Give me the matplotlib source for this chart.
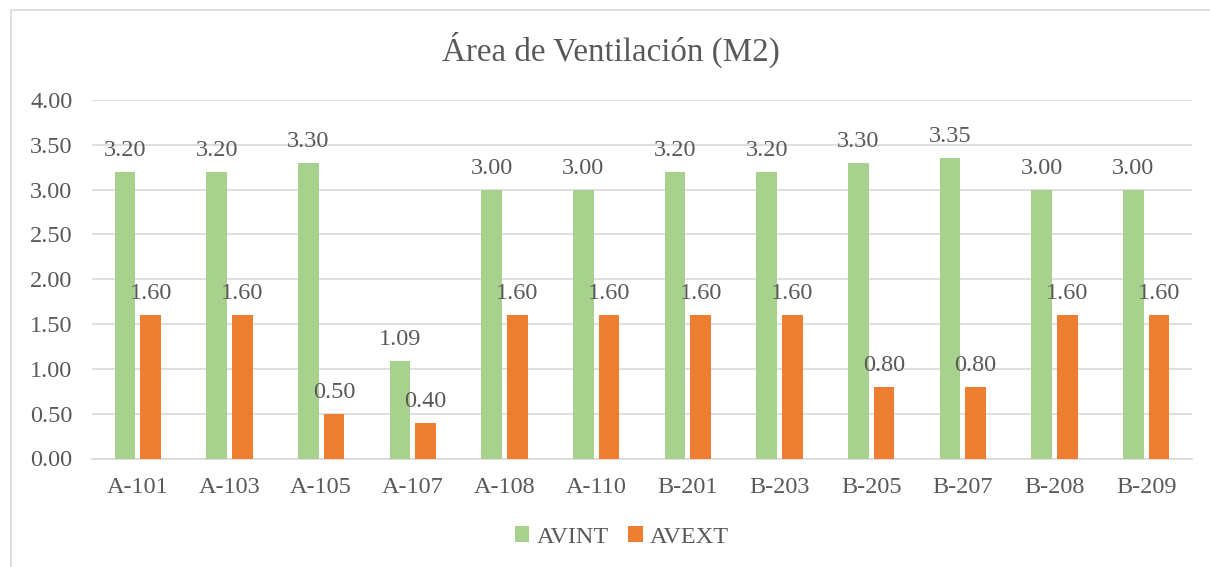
import matplotlib.pyplot as plt
import numpy as np
from matplotlib.patches import Rectangle

plt.rcParams['font.family'] = ['Liberation Serif', 'DejaVu Serif']

# áreas de ventilación por ambiente
ambientes = ['A-101', 'A-103', 'A-105', 'A-107', 'A-108', 'A-110',
             'B-201', 'B-203', 'B-205', 'B-207', 'B-208', 'B-209']
avint = [3.20, 3.20, 3.30, 1.09, 3.00, 3.00, 3.20, 3.20, 3.30, 3.35, 3.00, 3.00]
avext = [1.60, 1.60, 0.50, 0.40, 1.60, 1.60, 1.60, 1.60, 0.80, 0.80, 1.60, 1.60]
yticks = [0.0, 0.5, 1.0, 1.5, 2.0, 2.5, 3.0, 3.5, 4.0]

verde = '#a9d18e'
naranja = '#ed7d31'
gris = '#595959'

fig = plt.figure(figsize=(12.1, 5.67), dpi=100)
ax = fig.add_axes([92/1210, 1-458.5/567, 1100/1210, 358.5/567])

# marco del gráfico
fig.patches.append(Rectangle((11/1210, -0.05), 1.1, 1.05-10/567, transform=fig.transFigure,
                             fill=False, edgecolor='#d9d9d9', linewidth=1.2))

x = np.arange(len(ambientes))
w = 0.224
b1 = ax.bar(x - 0.139, avint, w, color=verde, label='AVINT', zorder=3)
b2 = ax.bar(x + 0.139, avext, w, color=naranja, label='AVEXT', zorder=3)

for barras, vals in ((b1, avint), (b2, avext)):
    for r, v in zip(barras, vals):
        ax.annotate('%.2f' % v, (r.get_x() + r.get_width()/2, v), xytext=(0, 8),
                    textcoords='offset points', ha='center', va='bottom',
                    fontsize=17.5, color=gris, zorder=4)

ax.set_xlim(-0.5, len(ambientes) - 0.5)
ax.set_ylim(0, 4)
ax.set_yticks(yticks)
ax.set_yticklabels(['%.2f' % t for t in yticks])
ax.set_xticks(x)
ax.set_xticklabels(ambientes)
ax.grid(axis='y', color='#d9d9d9', linewidth=1.2, zorder=0)
for s in ['top', 'right', 'left']:
    ax.spines[s].set_visible(False)
ax.spines['bottom'].set_color('#d9d9d9')
ax.spines['bottom'].set_linewidth(1.2)
ax.tick_params(axis='both', length=0, labelsize=17.5, labelcolor=gris)
ax.tick_params(axis='x', pad=13)
ax.tick_params(axis='y', pad=14)

fig.text(611/1210, 1-50/567, 'Área de Ventilación (M2)', ha='center', va='center',
         fontsize=23.8, color=gris)

fig.legend(handles=[b1, b2], loc='center', bbox_to_anchor=(622/1210, 1-537/567), ncol=2,
           frameon=False, fontsize=17.5, labelcolor=gris, handlelength=0.6,
           handleheight=0.6, handletextpad=0.3, columnspacing=0.8)

fig.savefig('out.png', dpi=100)
